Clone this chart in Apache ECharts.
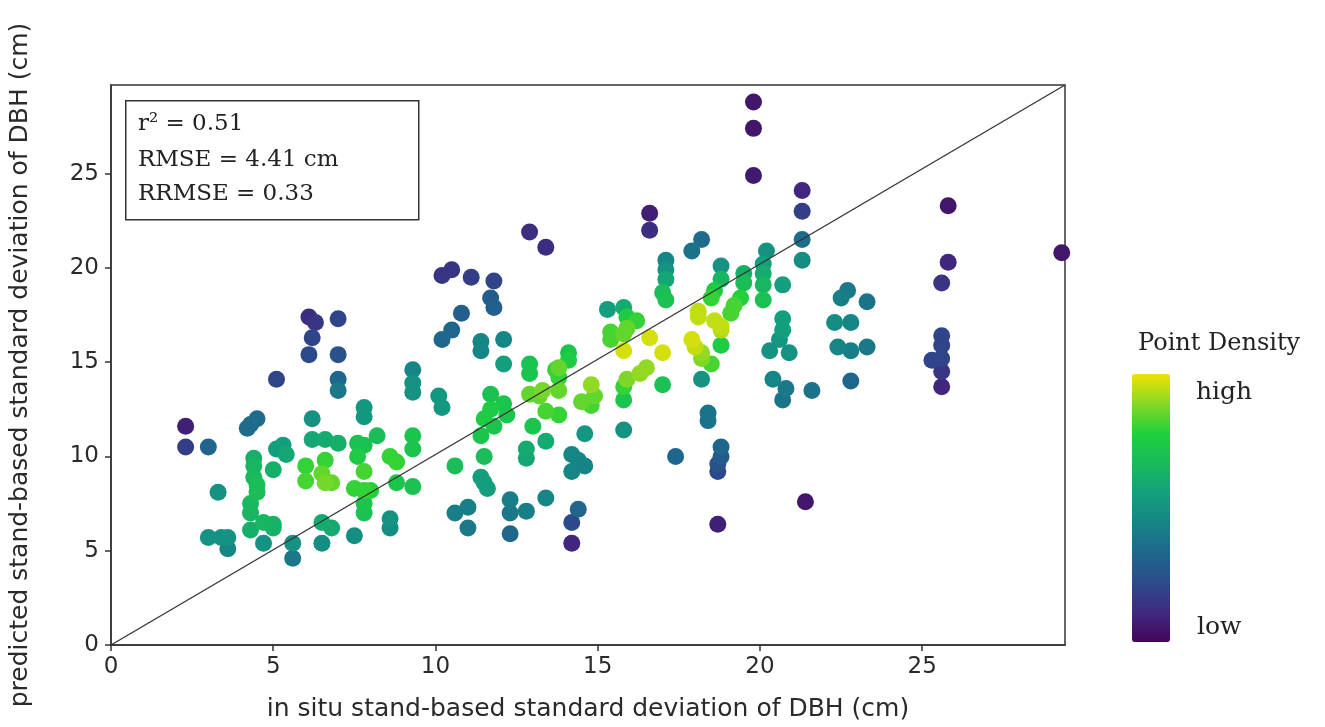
<!DOCTYPE html>
<html>
<head>
<meta charset="utf-8">
<script src="https://cdn.jsdelivr.net/npm/echarts@6/dist/echarts.min.js"></script>
<style>html,body{margin:0;padding:0;background:#fff}#c{width:1325px;height:727px}</style>
</head>
<body>
<div id="c"></div>
<script>
// in situ SD of DBH (cm)
const xs = [2.3,2.3,3.0,4.2,4.3,4.5,3.3,3.0,3.4,3.6,3.6,4.4,4.4,4.4,4.5,4.5,4.3,4.3,4.3,4.7,5.0,5.0,4.7,5.0,5.1,5.3,5.4,5.6,5.6,6.2,6.2,6.6,7.0,6.6,6.0,6.0,6.5,6.6,6.8,6.5,6.8,6.5,7.5,7.6,7.8,7.6,7.8,7.5,7.8,8.0,7.8,7.8,7.8,7.8,8.2,8.6,8.8,8.8,8.6,8.6,9.3,9.3,9.3,9.3,9.3,9.3,7.0,7.0,5.1,10.1,10.2,6.1,6.3,6.2,7.0,6.1,7.0,10.2,10.5,11.1,11.8,11.7,11.8,10.8,10.2,10.5,11.4,11.4,12.1,12.1,12.9,12.9,12.9,13.4,13.8,14.1,14.1,13.7,13.8,11.7,12.1,11.7,12.2,11.5,11.8,11.4,12.9,13.2,13.3,13.8,13.4,13.8,13.0,13.4,12.8,12.8,14.6,14.8,14.8,14.5,14.9,15.8,15.8,15.8,14.2,14.4,14.6,14.2,10.6,11.5,11.4,11.5,11.6,10.6,11.0,11.0,12.3,12.3,12.8,12.3,13.4,14.4,14.2,14.2,15.3,15.8,15.9,16.2,15.4,15.4,15.8,15.9,16.6,15.8,17.0,16.5,16.3,15.9,17.0,18.2,16.6,16.6,18.2,17.9,17.1,17.1,17.1,17.0,17.1,18.8,18.8,18.6,18.5,19.5,19.5,20.1,20.1,20.1,20.1,20.7,20.2,19.4,19.2,19.1,18.1,18.1,18.6,18.8,18.8,17.9,18.0,18.2,18.2,18.5,18.8,18.4,18.4,17.4,18.8,18.8,18.7,18.7,18.7,19.8,19.8,19.8,21.3,21.3,21.3,21.3,20.7,20.7,20.6,20.3,20.9,20.4,20.8,20.7,21.6,21.4,22.7,22.5,23.3,22.3,22.8,22.4,22.8,23.3,22.8,25.8,25.8,25.6,25.6,25.6,25.3,25.6,25.6,25.6,29.3];
// predicted SD of DBH (cm)
const ys = [11.6,10.5,10.5,11.5,11.7,12.0,8.1,5.7,5.7,5.7,5.1,9.9,9.5,8.9,8.5,8.1,7.5,7.0,6.1,6.5,6.4,6.2,5.4,9.3,10.4,10.6,10.1,5.4,4.6,12.0,10.9,10.9,10.7,9.8,9.5,8.7,9.1,8.6,8.6,6.5,6.2,5.4,5.8,10.7,10.6,10.0,9.2,8.3,8.2,8.2,7.5,7.0,12.6,12.1,11.1,10.0,9.7,8.6,6.7,6.2,8.4,11.1,10.4,13.9,13.4,14.6,14.1,13.5,14.1,13.2,12.6,17.4,17.1,16.3,17.3,15.4,15.4,19.6,19.9,19.5,19.3,18.4,17.9,17.6,16.2,16.7,16.1,15.6,16.2,14.9,14.9,14.4,21.9,21.1,14.7,15.5,15.1,14.6,14.2,13.3,12.8,12.5,12.2,12.0,11.6,11.1,13.3,13.2,13.5,13.5,12.4,12.2,11.6,10.8,10.4,9.9,11.2,13.8,12.7,12.9,13.2,13.7,13.0,11.4,10.1,9.8,9.5,9.2,9.5,10.0,8.9,8.6,8.3,7.0,7.3,6.2,7.7,7.0,7.1,5.9,7.8,7.2,6.5,5.4,17.8,17.9,17.4,17.2,16.6,16.2,16.5,16.8,16.3,15.6,15.5,14.7,14.4,14.1,13.8,14.1,22.9,22.0,21.5,20.9,20.4,19.9,19.4,18.7,18.3,20.1,19.4,18.8,18.4,19.7,19.2,20.2,19.7,19.1,18.3,19.1,20.9,18.4,18.0,17.6,17.7,17.4,17.2,16.9,16.7,16.2,15.8,15.5,15.2,14.9,15.9,12.3,11.9,10.0,10.5,10.0,9.6,9.2,6.4,28.8,27.4,24.9,24.1,23.0,21.5,20.4,17.3,16.7,16.2,15.6,15.5,14.1,13.6,13.0,13.5,7.6,18.8,18.4,18.2,17.1,17.1,15.8,15.6,15.8,14.0,23.3,20.3,19.2,16.4,15.9,15.1,15.2,14.5,13.7,20.8];
// relative point density (0 = low, 1 = high)
const dens = [0.08,0.18,0.32,0.35,0.35,0.35,0.5,0.5,0.5,0.5,0.45,0.62,0.65,0.66,0.68,0.68,0.66,0.65,0.62,0.65,0.63,0.63,0.5,0.62,0.55,0.55,0.58,0.5,0.4,0.5,0.58,0.6,0.62,0.8,0.8,0.82,0.85,0.87,0.85,0.6,0.6,0.48,0.48,0.7,0.7,0.75,0.82,0.8,0.8,0.78,0.72,0.7,0.52,0.52,0.68,0.8,0.8,0.72,0.5,0.48,0.7,0.72,0.72,0.5,0.5,0.45,0.33,0.4,0.2,0.52,0.52,0.12,0.15,0.2,0.2,0.22,0.25,0.15,0.15,0.18,0.2,0.28,0.3,0.3,0.33,0.33,0.45,0.45,0.45,0.55,0.7,0.72,0.12,0.12,0.85,0.72,0.75,0.8,0.8,0.7,0.72,0.75,0.72,0.75,0.72,0.72,0.85,0.85,0.87,0.85,0.82,0.8,0.72,0.6,0.6,0.58,0.52,0.9,0.82,0.85,0.85,0.8,0.72,0.5,0.45,0.45,0.45,0.45,0.68,0.68,0.55,0.55,0.55,0.42,0.42,0.4,0.42,0.4,0.42,0.33,0.45,0.32,0.22,0.1,0.55,0.6,0.75,0.8,0.82,0.82,0.85,0.85,0.97,0.97,0.97,0.9,0.9,0.88,0.7,0.5,0.08,0.12,0.35,0.38,0.45,0.5,0.58,0.68,0.7,0.5,0.65,0.75,0.8,0.62,0.68,0.55,0.6,0.65,0.7,0.55,0.5,0.78,0.82,0.82,0.95,0.95,0.95,0.95,0.93,0.97,0.95,0.9,0.88,0.82,0.75,0.38,0.38,0.33,0.33,0.28,0.25,0.22,0.08,0.05,0.05,0.06,0.1,0.18,0.35,0.48,0.55,0.55,0.52,0.5,0.5,0.45,0.4,0.38,0.38,0.05,0.4,0.42,0.38,0.48,0.45,0.45,0.42,0.4,0.33,0.05,0.1,0.15,0.2,0.2,0.2,0.2,0.15,0.1,0.05];
const xTicks = [0,5,10,15,20,25];
const yTicks = [0,5,10,15,20,25];
const xMax = 29.4, yMax = 29.7;
const statsLines = ['r² = 0.51', 'RMSE = 4.41 cm', 'RRMSE = 0.33'];
const xName = 'in situ stand-based standard deviation of DBH (cm)';
const yName = 'predicted stand-based standard deviation of DBH (cm)';

const pts = xs.map((x, i) => [x, ys[i], dens[i]]).sort((a, b) => a[2] - b[2]);
const chart = echarts.init(document.getElementById('c'), null, {renderer: 'canvas'});
const tickFont = {fontFamily: 'DejaVu Sans', fontSize: 23, color: '#2a2a2a'};
const nameFont = {fontFamily: 'DejaVu Sans', fontSize: 25, color: '#2a2a2a'};
const serif = 'DejaVu Serif';
chart.setOption({
  animation: false,
  backgroundColor: '#fff',
  grid: {left: 109, right: 260, top: 85, bottom: 77, show: true, borderColor: '#333', borderWidth: 1.5, backgroundColor: 'transparent'},
  xAxis: {
    type: 'value', min: 0, max: xMax, interval: 5,
    name: xName, nameLocation: 'middle', nameGap: 52,
    nameTextStyle: nameFont,
    axisLine: {show: true, onZero: false, lineStyle: {color: '#333', width: 1.5}},
    axisTick: {show: true, length: 6, lineStyle: {color: '#333', width: 1.5}},
    axisLabel: Object.assign({margin: 11, showMaxLabel: false, formatter: v => xTicks.includes(v) ? String(v) : ''}, tickFont),
    splitLine: {show: false}
  },
  yAxis: {
    type: 'value', min: 0, max: yMax, interval: 5,
    name: yName, nameLocation: 'middle', nameGap: 78,
    nameTextStyle: nameFont,
    axisLine: {show: true, onZero: false, lineStyle: {color: '#333', width: 1.5}},
    axisTick: {show: true, length: 6, lineStyle: {color: '#333', width: 1.5}},
    axisLabel: Object.assign({margin: 12, showMaxLabel: false, formatter: v => yTicks.includes(v) ? String(v) : ''}, tickFont),
    splitLine: {show: false}
  },
  visualMap: {
    type: 'continuous', min: 0, max: 1, dimension: 2, seriesIndex: 0,
    orient: 'vertical', left: 1132, top: 374, itemWidth: 38, itemHeight: 268,
    calculable: false, hoverLink: false, text: null, padding: 0, showLabel: false,
    inRange: {color: ['#44055a', '#3f2a80', '#2c4b8b', '#1f678c', '#168487', '#13a07c', '#19ba5c', '#1ed13c', '#86d825', '#f2e205']}
  },
  series: [
    {
      type: 'scatter', data: pts, symbolSize: 17, z: 3,
      itemStyle: {opacity: 1}
    },
    {
      type: 'line', data: [[0, 0], [xMax, yMax]], symbol: 'none', silent: true, z: 4,
      lineStyle: {color: '#333', width: 1.3}
    }
  ],
  graphic: [
    {type: 'rect', left: 125, top: 100, shape: {width: 293, height: 119}, style: {fill: '#fff', stroke: '#333', lineWidth: 1.5}, z: 10},
    {type: 'text', left: 138, top: 113, style: {text: statsLines[0], fontFamily: serif, fontSize: 23, fill: '#222'}, z: 11},
    {type: 'text', left: 138, top: 149, style: {text: statsLines[1], fontFamily: serif, fontSize: 23, fill: '#222'}, z: 11},
    {type: 'text', left: 138, top: 183, style: {text: statsLines[2], fontFamily: serif, fontSize: 23, fill: '#222'}, z: 11},
    {type: 'text', left: 1138, top: 332, style: {text: 'Point Density', fontFamily: serif, fontSize: 24, fill: '#222'}},
    {type: 'text', left: 1196, top: 380, style: {text: 'high', fontFamily: serif, fontSize: 25, fill: '#222'}},
    {type: 'text', left: 1197, top: 615, style: {text: 'low', fontFamily: serif, fontSize: 25, fill: '#222'}}
  ]
});
</script>
</body>
</html>
